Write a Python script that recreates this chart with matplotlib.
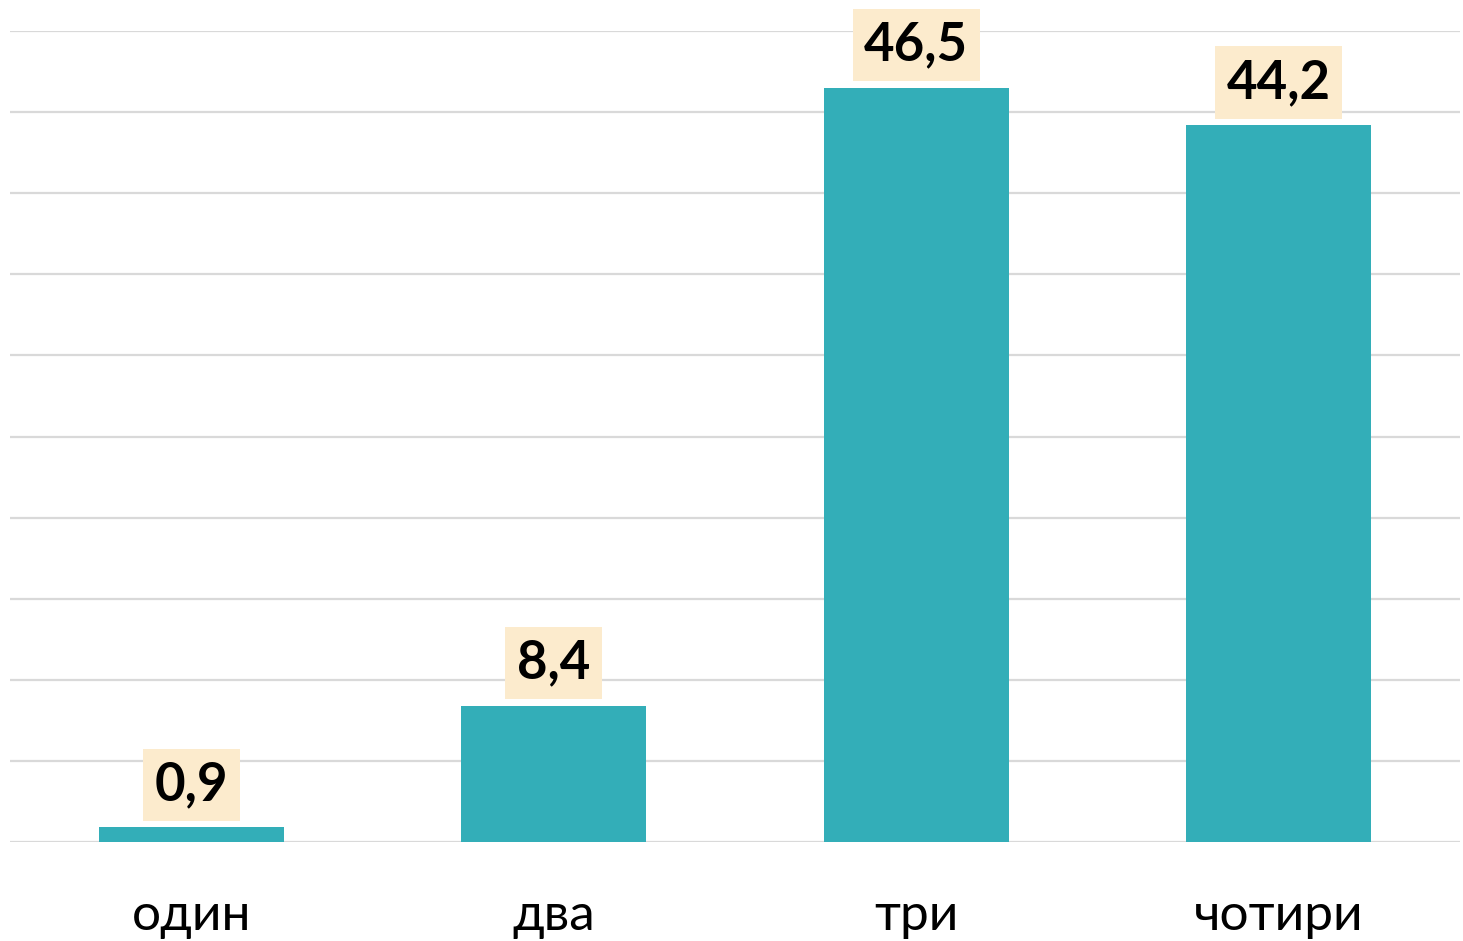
import matplotlib
matplotlib.use("Agg")
import matplotlib.pyplot as plt
from matplotlib.ticker import MultipleLocator

categories = ["один", "два", "три", "чотири"]
values = [0.9, 8.4, 46.5, 44.2]
value_labels = ["0,9", "8,4", "46,5", "44,2"]

W, H = 1463, 941
fig = plt.figure(figsize=(W / 100, H / 100), dpi=100)
ax = fig.add_axes([10 / W, 1 - 842 / H, 1450 / W, (842 - 31) / H])

bar_color = "#33AEB8"
ax.bar(range(len(categories)), values, width=0.51, color=bar_color, zorder=3)

ax.set_xlim(-0.5, 3.5)
ax.set_ylim(0, 50)
ax.yaxis.set_major_locator(MultipleLocator(5))
ax.grid(axis="y", color="#D9D9D9", linewidth=1.6, zorder=0)
ax.set_axisbelow(True)
for s in ax.spines.values():
    s.set_visible(False)
ax.tick_params(axis="y", left=False, labelleft=False)
ax.tick_params(axis="x", bottom=False, pad=60)
ax.set_xticks(range(len(categories)))
ax.set_xticklabels(categories, fontsize=37, family=["Lato", "DejaVu Sans"], color="#000000")
for lbl in ax.get_xticklabels():
    lbl.set_verticalalignment("baseline")

for i, (v, t) in enumerate(zip(values, value_labels)):
    ax.annotate(t, xy=(i, v), xytext=(0, 13), textcoords="offset points",
                ha="center", va="bottom", fontsize=38, fontweight="bold",
                family=["Lato", "DejaVu Sans"], color="#000000",
                bbox=dict(boxstyle="square,pad=0.22", fc="#FCEBCD", ec="none"),
                zorder=4, annotation_clip=False)

fig.savefig("out.png", dpi=100)
